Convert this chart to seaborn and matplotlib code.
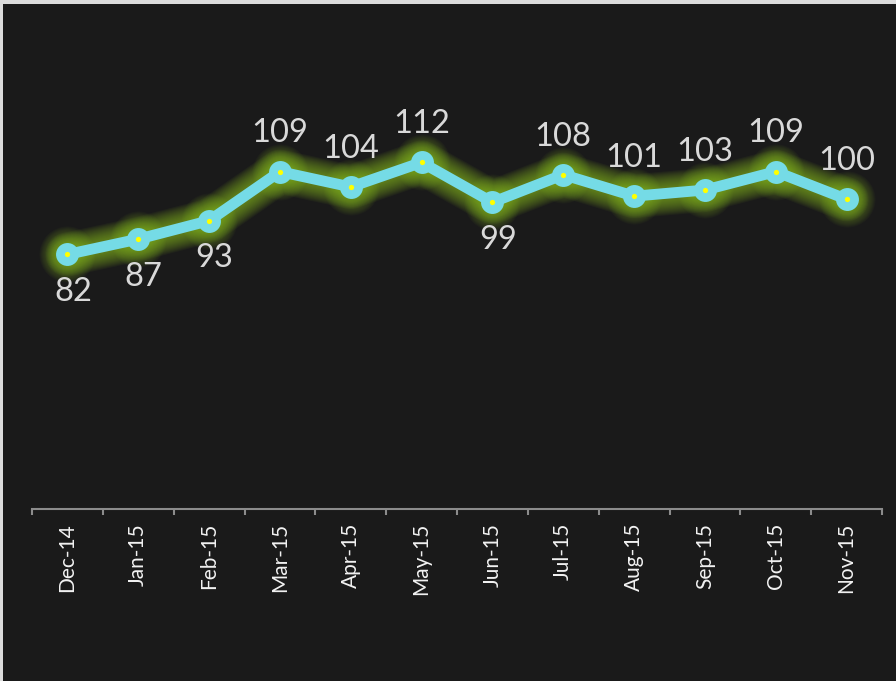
import numpy as np
import pandas as pd
import matplotlib
matplotlib.use("Agg")
import matplotlib.pyplot as plt
import seaborn as sns

months = ["Dec-14", "Jan-15", "Feb-15", "Mar-15", "Apr-15", "May-15",
          "Jun-15", "Jul-15", "Aug-15", "Sep-15", "Oct-15", "Nov-15"]
values = [82, 87, 93, 109, 104, 112, 99, 108, 101, 103, 109, 100]
label_side = ["below", "below", "below", "above", "above", "above",
              "below", "above", "above", "above", "above", "above"]

sns.set_theme(style="dark")
plt.rcParams["font.family"] = ["Lato", "DejaVu Sans"]

BG = "#1a1a1a"
CYAN = "#75dbe6"
GLOW = "#8fc21f"

W, H = 896, 681
fig = plt.figure(figsize=(W / 100, H / 100), dpi=100, facecolor="#dcdcdc")
# dark panel (light border at top & left)
fig.patches.append(plt.Rectangle((3 / W, 0), 1, 1 - 4 / H, transform=fig.transFigure,
                                 facecolor=BG, edgecolor="none", zorder=-10))

x0, x1 = 32, 882
ybot = 509
scale = 3.067
ymin, ymax = -1, 140
h = (ymax - ymin) * scale
ax = fig.add_axes([x0 / W, (H - ybot) / H, (x1 - x0) / W, h / H])
ax.set_facecolor("none")
ax.set_zorder(1)

df = pd.DataFrame({"month": months, "value": values, "pos": np.arange(len(months))})

# glow layers
n = 16
for i in range(n):
    lw = 44 - i * 2.0
    sns.lineplot(data=df, x="pos", y="value", ax=ax, sort=False, color=GLOW,
                 linewidth=lw * 0.72, alpha=0.055, zorder=1,
                 solid_capstyle="round", solid_joinstyle="round")
    ax.plot(df["pos"], df["value"], linestyle="none", marker="o",
            markersize=(lw + 12) * 0.72, color=GLOW, alpha=0.04,
            markeredgewidth=0, zorder=1)

sns.lineplot(data=df, x="pos", y="value", ax=ax, sort=False, color=CYAN,
             linewidth=7.8, zorder=3, marker="o", markersize=16.5,
             markerfacecolor=CYAN, markeredgewidth=0,
             solid_capstyle="round", solid_joinstyle="round")
ax.plot(df["pos"], df["value"], linestyle="none", marker="o", markersize=3.8,
        color="#ffff00", markeredgewidth=0, zorder=4)

for xi, v, side in zip(df["pos"], values, label_side):
    if side == "above":
        off = (0, 27.5)
    else:
        off = (4, -27)
    ax.annotate(str(v), (xi, v), xytext=off, textcoords="offset points",
                ha="center", va="center", fontsize=23.5, color="#d9d9d9", zorder=5)

ax.set_xlim(-0.5, len(months) - 0.5)
ax.set_ylim(ymin, ymax)
ax.set_xticks(df["pos"])
ax.set_xticklabels(months, rotation=90, fontsize=15, color="#f2f2f2")
ax.set_xticks(np.arange(-0.5, len(months), 1.0), minor=True)
ax.tick_params(axis="x", which="major", length=0, pad=10, bottom=True)
ax.tick_params(axis="x", which="minor", length=4.5, width=1.5, color="#8c8c8c",
               bottom=True, direction="out")
ax.set_yticks([])
ax.set_xlabel("")
ax.set_ylabel("")
ax.grid(False)
for s in ["top", "right", "left"]:
    ax.spines[s].set_visible(False)
ax.spines["bottom"].set_color("#8c8c8c")
ax.spines["bottom"].set_linewidth(1.5)

fig.savefig("out.png", dpi=100, facecolor=fig.get_facecolor())
